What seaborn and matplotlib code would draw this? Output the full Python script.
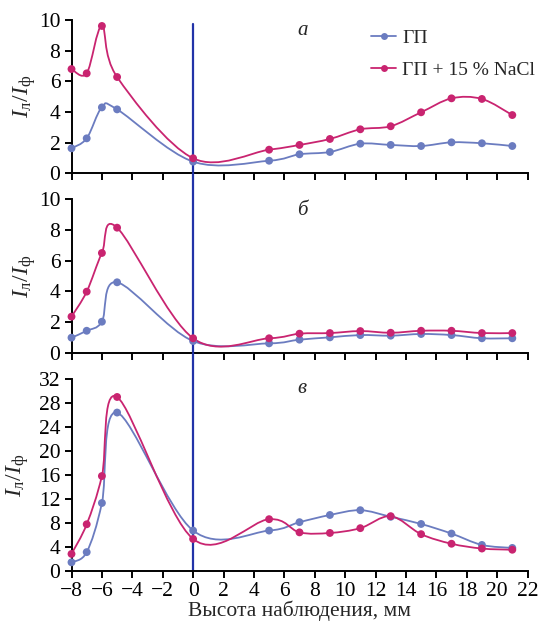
import numpy as np
import pandas as pd
import matplotlib
matplotlib.use("Agg")
import matplotlib.pyplot as plt
from matplotlib.path import Path
from matplotlib.patches import PathPatch
from matplotlib.lines import Line2D
import seaborn as sns

# ---------------- data ----------------
x_mm = [-8, -7, -6, -5, 0, 5, 7, 9, 11, 13, 15, 17, 19, 21]

a_gp = [1.63, 2.28, 4.30, 4.17, 0.76, 0.82, 1.24, 1.39, 1.93, 1.85, 1.78, 2.02, 1.96, 1.78]
a_nacl = [6.80, 6.52, 9.61, 6.28, 0.98, 1.54, 1.85, 2.24, 2.87, 3.07, 3.98, 4.89, 4.85, 3.80]

b_gp = [0.98, 1.43, 2.02, 4.59, 0.76, 0.61, 0.85, 1.00, 1.15, 1.11, 1.22, 1.15, 0.94, 0.94]
b_nacl = [2.35, 3.98, 6.50, 8.15, 0.94, 0.94, 1.24, 1.28, 1.41, 1.30, 1.43, 1.43, 1.28, 1.28]

c_gp = [1.4, 3.1, 11.3, 26.4, 6.7, 6.7, 8.1, 9.3, 10.1, 9.0, 7.8, 6.2, 4.3, 3.8]
c_nacl = [2.8, 7.75, 15.8, 29.0, 5.3, 8.6, 6.4, 6.3, 7.1, 9.1, 6.1, 4.5, 3.7, 3.5]

series_names = ["ГП", "ГП + 15 % NaCl"]
panel_letters = ["а", "б", "в"]
y_limits = [10, 10, 32]
y_steps = [2, 2, 4]
x_label = "Высота наблюдения, мм"
y_label = r"$I_{\rm л}/I_{\rm ф}$"

# ---------------- style ----------------
sns.set_theme(style="ticks")
plt.rcParams["font.family"] = ["Liberation Serif", "DejaVu Serif"]
plt.rcParams["mathtext.fontset"] = "custom"
plt.rcParams["mathtext.rm"] = "Liberation Serif"
plt.rcParams["mathtext.it"] = "Liberation Serif:italic"
plt.rcParams["axes.unicode_minus"] = True

col_gp = "#6b7cc0"
col_nacl = "#c92470"
col_vline = "#2233a8"
palette = {series_names[0]: col_gp, series_names[1]: col_nacl}

W, H = 547, 624
fig = plt.figure(figsize=(W / 100, H / 100), dpi=100)

left_px, right_px = 71.5, 527.5
panels_px = [(20.0, 173.3), (199.3, 352.7), (379.0, 570.7)]
axes = []
for top, bot in panels_px:
    ax = fig.add_axes([left_px / W, 1 - bot / H, (right_px - left_px) / W, (bot - top) / H])
    axes.append(ax)

data_sets = [(a_gp, a_nacl), (b_gp, b_nacl), (c_gp, c_nacl)]


def smooth_path(xs, ys):
    pts = np.column_stack([xs, ys]).astype(float)
    n = len(pts)
    verts = [tuple(pts[0])]
    codes = [Path.MOVETO]
    for i in range(n - 1):
        p0 = pts[i - 1] if i > 0 else pts[i]
        p1 = pts[i]
        p2 = pts[i + 1]
        p3 = pts[i + 2] if i + 2 < n else pts[i + 1]
        c1 = p1 + (p2 - p0) / 6.0
        c2 = p2 - (p3 - p1) / 6.0
        verts += [tuple(c1), tuple(c2), tuple(p2)]
        codes += [Path.CURVE4] * 3
    return Path(verts, codes)


label_x = [-0.073, -0.073, -0.088]
for k, ax in enumerate(axes):
    gp, nacl = data_sets[k]
    df = pd.DataFrame({
        "x": x_mm * 2,
        "y": gp + nacl,
        "series": [series_names[0]] * len(x_mm) + [series_names[1]] * len(x_mm),
    })
    for name, col in palette.items():
        sub = df[df.series == name]
        ax.add_patch(PathPatch(smooth_path(sub.x.values, sub.y.values), facecolor="none",
                               edgecolor=col, lw=1.3, zorder=3, clip_on=False))
    sns.scatterplot(data=df, x="x", y="y", hue="series", palette=palette, ax=ax,
                    s=32, edgecolor="none", legend=False, zorder=4, clip_on=False)

    ax.set_xlim(-8, 22)
    ax.set_ylim(0, y_limits[k])
    ax.set_xticks(range(-8, 23, 2))
    ax.set_yticks(range(0, y_limits[k] + 1, y_steps[k]))
    for s in ["top", "right"]:
        ax.spines[s].set_visible(False)
    for s in ["left", "bottom"]:
        ax.spines[s].set_linewidth(1.4)
        ax.spines[s].set_color("black")
    ax.tick_params(direction="out", length=5, width=1.4, labelsize=15.5, pad=3, colors="black")
    ax.tick_params(axis="x", pad=3)
    ax.set_xlabel("")
    ax.set_ylabel(y_label, fontsize=17)
    ax.yaxis.set_label_coords(label_x[k], 0.5)
    if k < 2:
        ax.tick_params(labelbottom=False)
    ax.text(0.495, 0.93 if k < 2 else 0.95, panel_letters[k], transform=ax.transAxes,
            fontsize=15, style="italic", ha="left", va="center")

# vertical reference line at x = 0 crossing all panels
ymaxs = [(173.3 - 24) / (173.3 - 20.0),
         (352.7 - 173.3) / (352.7 - 199.3),
         (570.7 - 352.7) / (570.7 - 379.0)]
for ax, ym in zip(axes, ymaxs):
    ax.axvline(0, ymin=0, ymax=ym, color=col_vline, lw=1.6, clip_on=False, zorder=2)

axes[2].set_xlabel(x_label, fontsize=15.5, labelpad=0)

handles = [Line2D([], [], color=col_gp, lw=1.3, marker="o", ms=5, mec="none"),
           Line2D([], [], color=col_nacl, lw=1.3, marker="o", ms=5, mec="none")]
axes[0].legend(handles, series_names, loc="upper left", bbox_to_anchor=(0.64, 0.99),
               frameon=False, fontsize=14, handlelength=1.3, handletextpad=0.3,
               labelspacing=0.72, borderaxespad=0)

fig.savefig("out.png", dpi=100)
